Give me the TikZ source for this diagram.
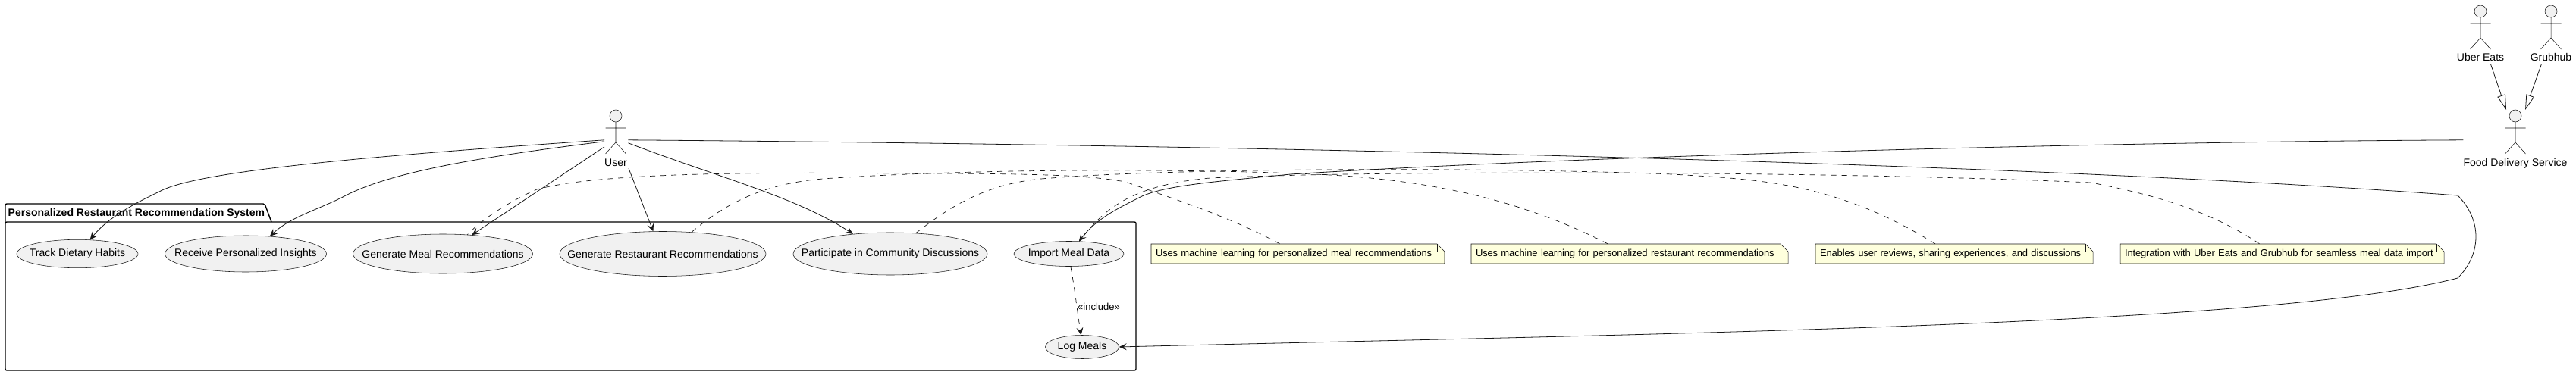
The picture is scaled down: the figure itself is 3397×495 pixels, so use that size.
\documentclass[tikz,border=0pt]{standalone}
\usepackage{fontspec}
\setmainfont{Liberation Sans}
\usetikzlibrary{arrows.meta,shapes.geometric}

\definecolor{linecol}{HTML}{181818}
\definecolor{usefill}{HTML}{F1F1F1}
\definecolor{notefill}{HTML}{FEFFDD}

\tikzset{
  assoc/.style={draw=linecol,line width=.8pt,-{Stealth[length=10pt,width=9pt,inset=4pt]}},
  notelink/.style={draw=linecol,line width=.7pt,dash pattern=on 7pt off 7pt},
  incllink/.style={notelink,-{Stealth[length=10pt,width=9pt,inset=4pt]}},
  genlink/.style={draw=linecol,line width=.8pt,-{Triangle[open,length=20pt,width=11pt,fill=white]}},
  usecase/.style={ellipse,draw=linecol,line width=.55pt,fill=usefill,inner sep=0pt,font=\fontsize{14}{16}\selectfont},
  actorfig/.style={draw=linecol,line width=.55pt,fill=usefill},
  actorlab/.style={anchor=base,inner sep=0pt,text height=10pt,text depth=3pt,font=\fontsize{14}{16}\selectfont},
  notebox/.style={draw=linecol,line width=.55pt,fill=notefill},
  notetext/.style={inner xsep=6pt,inner ysep=0pt,minimum height=26pt,align=left,font=\fontsize{13}{15}\selectfont\addfontfeature{LetterSpace=-1.2}},
  pkgline/.style={draw=black,line width=1.4pt,rounded corners=2pt}
}

\begin{document}
\begin{tikzpicture}[x=1pt,y=-1pt]
\useasboundingbox (0,0) rectangle (3397,495);

% package frame with its tab
\draw[pkgline] (7,293) rectangle (1498,489);
\draw[pkgline] (7,293) -- (7,269) -- (349,269) -- (358,293);
\node[anchor=west,inner sep=0pt,font=\fontsize{14}{16}\selectfont\bfseries] (pkgtitle) at (10.5,282) {Personalized Restaurant Recommendation System};

% use cases
\foreach \name/\x/\y/\rx/\ry/\lab in {
  track/102/335/80/18.7/Track Dietary Habits,
  insights/324/335/106.5/24/Receive Personalized Insights,
  mealrec/584/335/118.5/26/Generate Meal Recommendations,
  restrec/874/335/136/29.5/Generate Restaurant Recommendations,
  community/1174/335/128/28/Participate in Community Discussions,
  import/1409.5/335/72.5/16.5/Import Meal Data,
  logmeals/1427/458/48.5/15.5/Log Meals}
  \node[usecase,minimum width={2*\rx pt},minimum height={2*\ry pt}] (\name) at (\x,\y) {\makebox[0pt]{\lab}};

% actors
\foreach \name/\x/\y/\lab in {
  user/812/153/User,
  fooddelivery/3317/153/Food Delivery Service,
  ubereats/3271/15/Uber Eats,
  grubhub/3364/15/Grubhub} {
  \draw[actorfig] (\x,\y) circle (8);
  \draw[actorfig,fill=none] (\x,\y+8) -- (\x,\y+35) (\x-13.5,\y+16) -- (\x+13.5,\y+16)
    (\x-13.5,\y+50) -- (\x,\y+35) -- (\x+13.5,\y+50);
  \node[actorlab] (\name) at (\x,\y+66) {\lab};
  \coordinate (\name-w) at ([yshift=24pt]\name.north west);
  \coordinate (\name-e) at ([yshift=24pt]\name.north east);
  \coordinate (\name-n) at (\x,\y-8);
}

% notes
\foreach \name/\xa/\xb/\lab in {
  notemeal/1518/1905/Uses machine learning for personalized meal recommendations,
  noterest/1940/2358/Uses machine learning for personalized restaurant recommendations,
  notecomm/2394/2760/{Enables user reviews, sharing experiences, and discussions},
  noteimport/2796/3223/Integration with Uber Eats and Grubhub for seamless meal data import} {
  \draw[notebox] (\xa,322) -- (\xb-10,322) -- (\xb,332) -- (\xb,348) -- (\xa,348) -- cycle;
  \draw[notebox,fill=none] (\xb-10,322) -- (\xb-10,332) -- (\xb,332);
  \pgfmathsetmacro{\tw}{\xb-\xa-12}
  \node[notetext,text width=\tw pt] (\name) at ({(\xa+\xb)/2},335) {\mbox{\lab}};
}

% user associations
\draw[assoc] (user-w) .. controls (500,205) and (260,225) .. (210,253) .. controls (170,272) and (140,290) .. (track.48);
\draw[assoc] ([yshift=-2pt]user-w) .. controls (650,205) and (520,225) .. (456,258) .. controls (420,277) and (385,285) .. (insights.36);
\draw[assoc] ([yshift=-9pt]user-w) -- (mealrec.33);
\draw[assoc] ([xshift=2pt]user.south east) -- (restrec.113);
\draw[assoc] ([shift={(1.5pt,-4pt)}]user-e) .. controls (950,235) and (1050,260) .. (community.152);
\draw[assoc] ([xshift=1.5pt]user-e) .. controls (1500,190) and (2600,210) .. (3241,258) .. controls (3273,290) and (3273,335) .. (3241,367) .. controls (3000,430) and (2200,440) .. (logmeals.east);

% food delivery service
\draw[assoc] (fooddelivery-w) .. controls (2800,187) and (2100,205) .. (1702,230) .. controls (1600,240) and (1530,245) .. (1500,262) .. controls (1470,277) and (1445,290) .. (import.51);
\draw[genlink] ([xshift=-18pt]ubereats.south east) -- ([xshift=-12pt]fooddelivery-n);
\draw[genlink] ([xshift=15pt]grubhub.south west) -- ([xshift=13pt]fooddelivery-n);

% note links
\draw[notelink] ([xshift=-24pt]notemeal.north) .. controls (1620,285) and (1540,260) .. (1484,240) .. controls (1440,232) and (1380,229) .. (1210,229) .. controls (1050,228) and (800,225) .. (708,250) .. controls (680,262) and (640,285) .. (mealrec.38);
\draw[notelink] ([xshift=-29pt]noterest.north) .. controls (2000,260) and (1880,240) .. (1772,232) .. controls (1600,222) and (1300,222) .. (1100,235) .. controls (1000,240) and (950,275) .. (restrec.37);
\draw[notelink] ([xshift=-25pt]notecomm.north) .. controls (2420,240) and (2320,237) .. (2205,230) .. controls (1950,220) and (1550,222) .. (1386,235) .. controls (1300,240) and (1250,275) .. (community.39);
\draw[notelink] ([xshift=-30pt]noteimport.north) .. controls (2910,275) and (2830,255) .. (2757,241) .. controls (2400,225) and (1800,225) .. (1596,235) .. controls (1480,245) and (1450,285) .. (import.50);

% include
\draw[incllink] (import.278) .. controls (1418,385) and (1421,415) .. (logmeals.95);
\node[inner sep=0pt,font=\fontsize{13}{15}\selectfont] (inclabel) at (1449,405) {«include»};

\end{tikzpicture}
\end{document}
